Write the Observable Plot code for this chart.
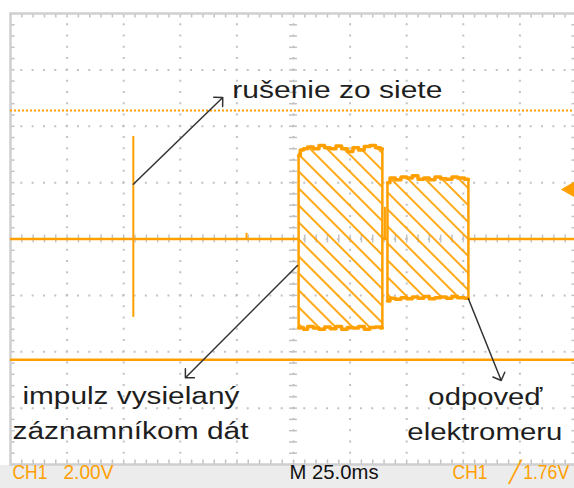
<!DOCTYPE html>
<html><head><meta charset="utf-8">
<script src="https://cdn.jsdelivr.net/npm/d3@7"></script>
<script src="https://cdn.jsdelivr.net/npm/@observablehq/plot@0.6"></script>
<style>body{margin:0;background:#fff;}</style>
</head><body><div id="chart"></div>
<script>
// ---- data (screen divisions: time 0..10 div, voltage -4..4 div) ----
const baselineFrom = [0, 6.57, 8.09];
const baselineTo   = [5.09, 6.66, 10];
const spikeTime   = [2.17, 4.17, 6.615];
const spikeLow    = [-1.39, 0, 0];
const spikeHigh   = [1.82, 0.1, 0.56];

const block1Time   = [5.09, 5.15, 5.2, 5.3, 5.4, 5.5, 5.6, 5.7, 5.8, 5.9, 6.0, 6.1, 6.2, 6.3, 6.4, 6.5, 6.57];
const block1Top    = [1.48, 1.58, 1.6, 1.63, 1.6, 1.66, 1.62, 1.6, 1.65, 1.6, 1.55, 1.62, 1.58, 1.64, 1.66, 1.62, 1.6];
const block1Bottom = [-1.58, -1.57, -1.6, -1.55, -1.58, -1.6, -1.56, -1.59, -1.55, -1.6, -1.57, -1.58, -1.55, -1.6, -1.57, -1.56, -1.58];
const block2Time   = [6.66, 6.75, 6.85, 6.95, 7.05, 7.15, 7.25, 7.35, 7.45, 7.55, 7.65, 7.75, 7.85, 7.95, 8.09];
const block2Top    = [1.0, 1.08, 1.05, 1.1, 1.08, 1.12, 1.06, 1.08, 1.05, 1.1, 1.07, 1.06, 1.1, 1.08, 1.06];
const block2Bottom = [-1.1, -1.05, -1.07, -1.04, -1.06, -1.03, -1.05, -1.02, -1.06, -1.04, -1.03, -1.05, -1.02, -1.04, -1.05];

const dottedCursor = [2.28];
const solidCursor  = [-2.14];
const triggerLevel = [0.88];

const annotationTexts = ["rušenie zo siete", "impulz vysielaný", "záznamníkom dát", "odpoveď", "elektromeru"];
const annotationT = [3.92, 0.21, 0.035, 8.39, 8.38];
const annotationV = [2.64, -2.80, -3.41, -2.82, -3.44];
const annotationAnchor = ["start", "start", "start", "middle", "middle"];

const arrowFromT = [2.17, 5.07, 8.09];
const arrowFromV = [0.97, -0.47, -1.06];
const arrowToT   = [3.75, 3.09, 8.67];
const arrowToV   = [2.51, -2.46, -2.51];

const statusTexts  = ["CH1", "2.00V", "M 25.0ms", "CH1", "╱", "1.76V"];
const statusT      = [0.035, 0.936, 4.93, 7.81, 8.8, 9.87];
const statusKind   = ["ch", "ch", "time", "ch", "ch", "ch"];
const statusAnchor = ["start", "start", "start", "start", "start", "end"];

// ---- styling ----
const ORANGE = "#ffa000";
const GRID = "#c2c2c2";
const textLengths = {"rušenie zo siete": 210, "impulz vysielaný": 217, "záznamníkom dát": 236, "odpoveď": 114, "elektromeru": 155,
  "CH1": 35, "2.00V": 50, "M 25.0ms": 89, "1.76V": 46};

// ---- derived tables ----
const zip = (ts, vs) => ts.map((t, i) => ({t, v: vs[i]}));
const baseline = baselineFrom.map((f, i) => ({f, to: baselineTo[i]}));
const spikes = spikeTime.map((t, i) => ({t, lo: spikeLow[i], hi: spikeHigh[i]}));
const blocks = [
  {time: block1Time, top: block1Top, bottom: block1Bottom},
  {time: block2Time, top: block2Top, bottom: block2Bottom}
];
const blockRects = blocks.map(b => ({x1: b.time[0], x2: b.time[b.time.length - 1], y1: d3.mean(b.bottom), y2: d3.mean(b.top)}));
const blockEdges = blocks.flatMap(b => [
  {t: b.time[0], lo: b.bottom[0], hi: b.top[0]},
  {t: b.time[b.time.length - 1], lo: b.bottom[b.bottom.length - 1], hi: b.top[b.top.length - 1]}
]);
const annotations = annotationTexts.map((s, i) => ({s, t: annotationT[i], v: annotationV[i], a: annotationAnchor[i]}));
const arrows = arrowFromT.map((t, i) => ({x1: t, y1: arrowFromV[i], x2: arrowToT[i], y2: arrowToV[i]}));
const status = statusTexts.map((s, i) => ({s, t: statusT[i], k: statusKind[i], a: statusAnchor[i]}));

const majorT = d3.range(1, 10);
const majorV = d3.range(-3, 4);
const minorT = d3.range(0, 10.001, 0.2);
const minorV = d3.range(-4, 4.001, 0.2);

const statusOpts = a => ({x: "t", frameAnchor: "bottom", dy: 14, text: "s", textAnchor: a, fontSize: 21,
  fontFamily: "Liberation Sans Narrow, Arial Narrow, Liberation Sans, sans-serif",
  fill: d => d.k === "ch" ? ORANGE : "#111"});

const svg = Plot.plot({
  width: 574, height: 488,
  marginLeft: 10, marginRight: -2, marginTop: 13, marginBottom: 24,
  x: {domain: [0, 10], axis: null},
  y: {domain: [-4, 4], axis: null},
  style: {fontFamily: "Liberation Sans, Arial, sans-serif", background: "white"},
  marks: [
    // graticule
    Plot.ruleY(majorV, {stroke: GRID, strokeWidth: 2, strokeDasharray: "2,9.32", strokeDashoffset: 1}),
    Plot.ruleX(majorT, {stroke: GRID, strokeWidth: 2, strokeDasharray: "2,9.275", strokeDashoffset: 1}),
    Plot.ruleY(minorV, {x1: 4.93, x2: 5.07, stroke: GRID, strokeWidth: 1.5}),
    Plot.ruleX(minorT, {y1: -0.07, y2: 0.07, stroke: GRID, strokeWidth: 1.5}),
    Plot.ruleX(minorT, {y1: 4, y2: 3.92, stroke: GRID, strokeWidth: 1.5}),
    Plot.ruleX(minorT, {y1: -4, y2: -3.92, stroke: GRID, strokeWidth: 1.5}),
    Plot.ruleY(minorV, {x1: 0, x2: 0.08, stroke: GRID, strokeWidth: 1.5}),
    Plot.ruleY(minorV, {x1: 10, x2: 9.92, stroke: GRID, strokeWidth: 1.5}),
    Plot.frame({stroke: "#cfcfcf", strokeWidth: 2.5}),
    // cursors
    Plot.ruleY(dottedCursor, {stroke: ORANGE, strokeWidth: 2, strokeDasharray: "2,2"}),
    Plot.ruleY(solidCursor, {stroke: ORANGE, strokeWidth: 2.5}),
    // hatched envelopes
    Plot.rect(blockRects, {x1: "x1", x2: "x2", y1: "y1", y2: "y2", fill: "url(#hatch)"}),
    // trace
    Plot.ruleY(baseline, {y: () => 0, x1: "f", x2: "to", stroke: ORANGE, strokeWidth: 2.5}),
    Plot.ruleX(spikes, {x: "t", y1: "lo", y2: "hi", stroke: ORANGE, strokeWidth: 2}),
    Plot.ruleX(blockEdges, {x: "t", y1: "lo", y2: "hi", stroke: ORANGE, strokeWidth: 2.5}),
    ...blocks.flatMap(b => [
      Plot.line(zip(b.time, b.top), {x: "t", y: "v", stroke: ORANGE, strokeWidth: 3.5, curve: "step"}),
      Plot.line(zip(b.time, b.bottom), {x: "t", y: "v", stroke: ORANGE, strokeWidth: 3.5, curve: "step"})
    ]),
    // trigger level marker
    Plot.dot(triggerLevel, {x: () => 9.89, y: d => d, symbol: "triangle", r: 6, rotate: -90, fill: ORANGE, stroke: null}),
    Plot.ruleY(triggerLevel, {x1: 9.89, x2: 10, stroke: ORANGE, strokeWidth: 3}),
    // annotations
    Plot.arrow(arrows, {x1: "x1", y1: "y1", x2: "x2", y2: "y2", stroke: "#333", strokeWidth: 1.5, headAngle: 90, headLength: 9}),
    Plot.text(annotations.filter(d => d.a === "start"), {x: "t", y: "v", text: "s", textAnchor: "start", fontSize: 23, fill: "#1e1e1e"}),
    Plot.text(annotations.filter(d => d.a === "middle"), {x: "t", y: "v", text: "s", textAnchor: "middle", fontSize: 23, fill: "#1e1e1e"}),
    // status bar
    Plot.text(status.filter(d => d.a === "start"), statusOpts("start")),
    Plot.text(status.filter(d => d.a === "end"), statusOpts("end"))
  ]
});

const s = d3.select(svg);
const defs = s.insert("defs", ":first-child");
const pat = defs.append("pattern").attr("id", "hatch").attr("patternUnits", "userSpaceOnUse")
  .attr("width", 12).attr("height", 12).attr("patternTransform", "rotate(-45)");
pat.append("line").attr("x1", 6).attr("y1", 0).attr("x2", 6).attr("y2", 12)
  .attr("stroke", ORANGE).attr("stroke-width", 1.8);
s.insert("rect", "defs + *").attr("x", 0).attr("y", 465).attr("width", 574).attr("height", 23).attr("fill", "#ececec");
s.selectAll("text").each(function () {
  const t = this.textContent;
  if (textLengths[t]) d3.select(this).attr("textLength", textLengths[t]).attr("lengthAdjust", "spacingAndGlyphs");
});
document.getElementById("chart").append(svg);
</script></body></html>
